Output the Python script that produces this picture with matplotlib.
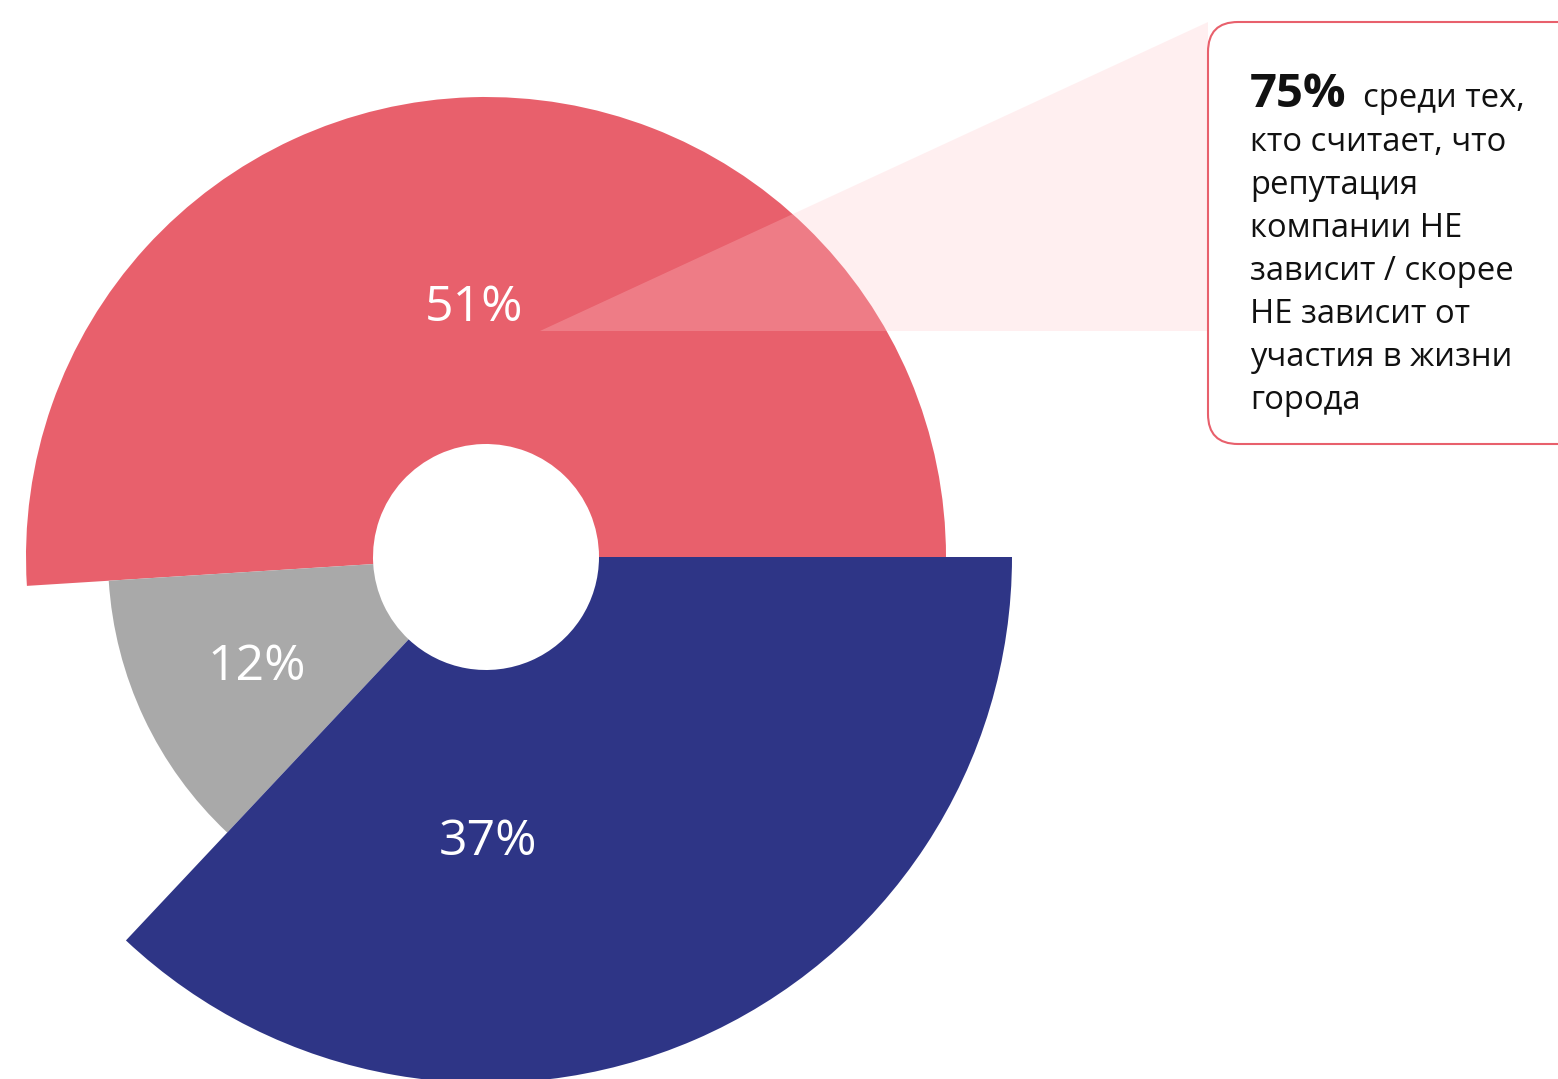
import numpy as np
import matplotlib.pyplot as plt
from matplotlib.patches import Wedge, Polygon, FancyBboxPatch

plt.rcParams['font.family'] = ['Open Sans', 'DejaVu Sans']

# data
labels = ['51%', '12%', '37%']
shares = [51, 12, 37]
radii = [460, 378, 526]          # outer radius of each slice, px
colors = ['#e8606c', '#a9a9a9', '#2e3586']
label_xy = [(474, 321), (257, 680), (488, 855)]   # text baseline centre, px from top

callout_bold = '75%'
callout_lines = ['среди тех,', 'кто считает, что', 'репутация', 'компании НЕ',
                 'зависит / скорее', 'НЕ зависит от', 'участия в жизни', 'города']

W, H = 1558, 1079
fig = plt.figure(figsize=(W / 100, H / 100), dpi=100)
ax = fig.add_axes([0, 0, 1, 1])
ax.set_xlim(0, W)
ax.set_ylim(0, H)
ax.axis('off')

cx, cy = 486, H - 557
inner = 113

angles = np.concatenate([[0], np.cumsum(shares) / sum(shares) * 360])
for i in range(len(shares)):
    ax.add_patch(Wedge((cx, cy), radii[i], angles[i], angles[i + 1],
                       width=radii[i] - inner, facecolor=colors[i],
                       edgecolor='none', zorder=1))

for lab, (x, y) in zip(labels, label_xy):
    ax.text(x, H - y, lab, color='white', fontsize=36, ha='center',
            va='baseline', zorder=5)

# callout wedge and box
tri = Polygon([(540, H - 331), (1208, H - 22), (1208, H - 331)], closed=True,
              facecolor='#ffc8cc', alpha=0.28, edgecolor='none', zorder=2)
ax.add_patch(tri)

box = FancyBboxPatch((1208, H - 444), 500, 422,
                     boxstyle='round,pad=0,rounding_size=30',
                     facecolor='white', edgecolor='#e8606c', linewidth=1.5,
                     zorder=3)
ax.add_patch(box)

ax.text(1250, H - 107, callout_bold, fontsize=34, fontweight='bold',
        color='#111111', va='baseline', zorder=6)
ax.text(1363, H - 107, callout_lines[0], fontsize=23.6, color='#111111',
        va='baseline', zorder=6)
for k, line in enumerate(callout_lines[1:]):
    ax.text(1250, H - (151 + 43 * k), line, fontsize=23.6, color='#111111',
            va='baseline', zorder=6)

fig.savefig('out.png', dpi=100)
